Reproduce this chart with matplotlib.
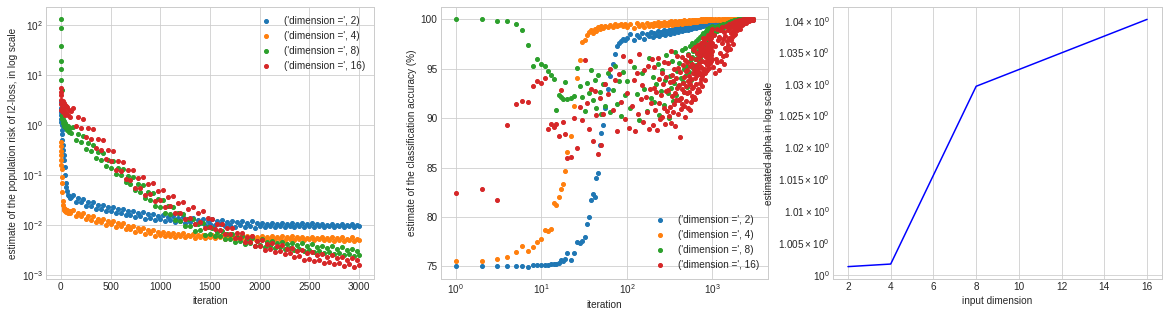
#!/usr/bin/env python3
# -*- coding: utf-8 -*-

import matplotlib
matplotlib.use('Agg')
import matplotlib.pyplot as plt

plt.style.use('seaborn-v0_8-whitegrid')

dims = [2, 4, 8, 16]

# ---- population risk of l2-loss ----
loss_iters = [0, 1, 2, 3, 4, 5, 6, 8, 10, 15, 20, 25, 30, 35, 40, 45, 50, 55, 60, 70, 80, 90, 100] \
    + list(range(125, 3001, 25))

loss_d2 = [2.8, 2.2, 1.8, 1.6, 1.3, 1.15, 1.0, 0.8, 0.65, 0.5, 0.4, 0.32, 0.25, 0.2, 0.14, 0.1,
           0.07, 0.056, 0.048, 0.04, 0.037, 0.035, 0.036,
           0.0394, 0.0288, 0.0338, 0.0281, 0.0331, 0.0239, 0.0281, 0.0233,
           0.0281, 0.0206, 0.0246, 0.0208, 0.0252, 0.0186, 0.0224, 0.019,
           0.0229, 0.017, 0.0203, 0.0173, 0.0209, 0.0155, 0.0186, 0.0158,
           0.0192, 0.0143, 0.0172, 0.0147, 0.0178, 0.0133, 0.0161, 0.0138,
           0.0167, 0.0124, 0.015, 0.0128, 0.0156, 0.0117, 0.0142, 0.0123,
           0.015, 0.0112, 0.0136, 0.0117, 0.0144, 0.0108, 0.0132, 0.0113,
           0.0139, 0.0104, 0.0126, 0.0109, 0.0133, 0.01, 0.0122, 0.0105,
           0.0129, 0.0097, 0.0118, 0.0102, 0.0125, 0.0094, 0.0116, 0.01,
           0.0122, 0.0092, 0.0112, 0.0098, 0.012, 0.009, 0.011, 0.0095,
           0.0117, 0.0088, 0.0108, 0.0093, 0.0108, 0.0091, 0.0103, 0.0095,
           0.0108, 0.0091, 0.0103, 0.0095, 0.0108, 0.0091, 0.0103, 0.0095,
           0.0107, 0.009, 0.0102, 0.0094, 0.0107, 0.009, 0.0102, 0.0094,
           0.0107, 0.009, 0.0102, 0.0094, 0.0106, 0.009, 0.0101, 0.0094,
           0.0106, 0.009, 0.0101, 0.0094, 0.0106, 0.0089, 0.0101, 0.0093,
           0.0106, 0.0089, 0.0101, 0.0093]

loss_d4 = [0.45, 0.38, 0.3, 0.25, 0.2, 0.16, 0.13, 0.09, 0.07, 0.045, 0.03, 0.025, 0.022, 0.02,
           0.021, 0.019, 0.02, 0.018, 0.0195, 0.0175, 0.019, 0.017, 0.0185,
           0.0201, 0.015, 0.0174, 0.0149, 0.0171, 0.0128, 0.0149, 0.0127,
           0.0149, 0.0112, 0.013, 0.0113, 0.0132, 0.0101, 0.0119, 0.0103,
           0.0121, 0.0092, 0.0108, 0.0094, 0.011, 0.0082, 0.0095, 0.0082,
           0.0096, 0.0073, 0.0086, 0.0074, 0.0088, 0.0067, 0.0078, 0.0068,
           0.008, 0.0061, 0.0072, 0.0062, 0.0072, 0.006, 0.0068, 0.0061,
           0.007, 0.0058, 0.0066, 0.006, 0.0068, 0.0057, 0.0063, 0.0059,
           0.0066, 0.0055, 0.0062, 0.0058, 0.0064, 0.0054, 0.0061, 0.0057,
           0.0064, 0.0054, 0.0061, 0.0056, 0.0063, 0.0053, 0.006, 0.0056,
           0.0063, 0.0053, 0.006, 0.0055, 0.0062, 0.0052, 0.0059, 0.0055,
           0.0061, 0.0051, 0.0058, 0.0053, 0.006, 0.0051, 0.0057, 0.0053,
           0.006, 0.0051, 0.0057, 0.0052, 0.0059, 0.005, 0.0056, 0.0052,
           0.0059, 0.005, 0.0056, 0.0052, 0.0058, 0.0049, 0.0055, 0.0051,
           0.0058, 0.0049, 0.0055, 0.0051, 0.0057, 0.0049, 0.0054, 0.005,
           0.0057, 0.0048, 0.0054, 0.005, 0.0056, 0.0048, 0.0053, 0.005,
           0.0056, 0.0047, 0.0053, 0.0049]

loss_d8 = [128, 87, 38, 19, 13, 8, 5, 1.6, 1.3, 1.5, 1.1, 1.3, 0.95, 1.2, 0.9, 1.1,
           0.85, 1.0, 0.8, 0.95, 0.72, 0.88, 0.7,
           0.92, 0.50, 0.66, 0.46, 0.61, 0.33, 0.435, 0.305,
           0.40, 0.22, 0.287, 0.20, 0.268, 0.149, 0.197, 0.139,
           0.186, 0.103, 0.136, 0.097, 0.128, 0.071, 0.094, 0.067,
           0.0886, 0.0492, 0.065, 0.0462, 0.0613, 0.0341, 0.045, 0.0319,
           0.0429, 0.0241, 0.0322, 0.0231, 0.0311, 0.0175, 0.0234, 0.0168,
           0.0225, 0.0126, 0.017, 0.0121, 0.0165, 0.0095, 0.0129, 0.0094,
           0.0131, 0.0076, 0.0105, 0.0078, 0.0109, 0.0064, 0.0089, 0.0067,
           0.0086, 0.006, 0.0073, 0.0061, 0.0076, 0.0053, 0.0065, 0.0053,
           0.0066, 0.0046, 0.0056, 0.0047, 0.0059, 0.0042, 0.0052, 0.0043,
           0.0054, 0.00384, 0.00477, 0.00402, 0.0051, 0.00363, 0.00456, 0.00384,
           0.00486, 0.00346, 0.00434, 0.00366, 0.00464, 0.00331, 0.00415, 0.0035,
           0.00443, 0.00315, 0.00396, 0.00334, 0.00424, 0.00302, 0.00379, 0.00319,
           0.00405, 0.00288, 0.00362, 0.00305, 0.00386, 0.00275, 0.00346, 0.00291,
           0.00369, 0.00263, 0.0033, 0.00278, 0.00353, 0.00251, 0.00315, 0.00265,
           0.00336, 0.0024, 0.00301, 0.00253]

loss_d16 = [5.5, 4.5, 3.9, 3.2, 2.6, 2.0, 2.8, 1.9, 2.9, 2.2, 3.0, 1.8, 2.7, 2.0, 2.5, 1.6,
            2.4, 1.7, 2.3, 1.6, 2.0, 1.4, 1.9,
            2.2, 0.95, 1.43, 0.87, 1.33, 0.57, 0.86, 0.52,
            0.81, 0.34, 0.52, 0.32, 0.49, 0.21, 0.31, 0.19,
            0.30, 0.126, 0.19, 0.117, 0.184, 0.081, 0.124, 0.077,
            0.123, 0.055, 0.087, 0.055, 0.089, 0.040, 0.064, 0.042,
            0.068, 0.030, 0.048, 0.031, 0.050, 0.0227, 0.036, 0.0234,
            0.038, 0.017, 0.027, 0.0173, 0.0286, 0.013, 0.0211, 0.0138,
            0.0229, 0.0105, 0.0169, 0.0112, 0.0187, 0.0085, 0.0138, 0.0091,
            0.0128, 0.0081, 0.0102, 0.008, 0.0104, 0.0066, 0.0086, 0.0067,
            0.0085, 0.0055, 0.0069, 0.0054, 0.007, 0.0045, 0.0058, 0.0045,
            0.0059, 0.0037, 0.0048, 0.0038, 0.0049, 0.0032, 0.0042, 0.0033,
            0.0044, 0.0029, 0.0038, 0.003, 0.0039, 0.0026, 0.0033, 0.0027,
            0.0035, 0.0023, 0.003, 0.0024, 0.0031, 0.002, 0.0027, 0.0021,
            0.0028, 0.00185, 0.00244, 0.00197, 0.00262, 0.00173, 0.00229, 0.00184,
            0.00245, 0.00162, 0.00213, 0.00172, 0.00231, 0.00153, 0.00202, 0.00164,
            0.0022, 0.00146, 0.00194, 0.00157]

# ---- classification accuracy (%) ----
acc_head = list(range(1, 21)) + list(range(22, 51, 2)) + [53, 56, 60, 64, 68, 72, 76, 80, 85, 90, 95]
acc_iters = acc_head + list(range(100, 1001, 10)) + list(range(1040, 3001, 40))
acc_iters_d16 = acc_head + list(range(100, 1001, 5)) + list(range(1020, 3001, 20))

acc_d2 = [75.07, 75.0, 75.05, 75.05, 75.05, 75.05, 74.98, 75.1, 75.12, 75.13,
          75.15, 75.15, 75.2, 75.2, 75.25, 75.3, 75.7, 75.5, 75.8, 76.4,
          75.7, 76.4, 77.5, 77.4, 77.6, 78.0, 79.3, 80.0, 81.7, 82.3, 82.0, 83.9, 84.5, 87.3, 88.5,
          89.3, 91.0, 93.0, 94.3, 95.5, 96.5, 97.3, 97.6, 97.8, 98.0, 97.9,
          98.1, 98.5, 97.9, 98.4, 98.2, 98.6, 98.0, 98.5, 98.3, 98.7,
          98.2, 98.6, 98.4, 98.8, 98.3, 98.7, 98.5, 98.9, 98.4, 98.8,
          98.6, 98.9, 98.5, 98.9, 98.7, 99.0, 98.6, 99.0, 98.8, 99.1,
          98.7, 99.0, 98.9, 99.2, 98.8, 99.1, 98.9, 99.2, 98.9, 99.2,
          99.0, 99.3, 98.9, 99.2, 99.1, 99.3, 99.0, 99.3, 99.1, 99.4,
          99.1, 99.3, 99.2, 99.4, 99.1, 99.4, 99.2, 99.5, 99.2, 99.4,
          99.3, 99.5, 99.2, 99.5, 99.3, 99.5, 99.3, 99.6, 99.3, 99.5,
          99.4, 99.6, 99.4, 99.6, 99.4, 99.6, 99.5, 99.7, 99.4, 99.6,
          99.5, 99.7, 99.5, 99.7, 99.5, 99.7, 99.6, 99.7, 99.5, 99.7,
          99.6,
          99.6, 99.8, 99.6, 99.8, 99.7, 99.8, 99.6, 99.9, 99.7, 99.8,
          99.7, 99.9, 99.7, 99.8, 99.8, 99.9, 99.7, 99.9, 99.8, 99.9,
          99.8, 99.9, 99.8, 100.0, 99.8, 99.9, 99.8, 100.0, 99.9, 99.9,
          99.8, 100.0, 99.9, 99.9, 99.9, 100.0, 99.8, 100.0, 99.9, 99.9,
          99.9, 100.0, 99.9, 100.0, 99.9, 99.9, 100.0, 99.9, 100.0, 99.9]

acc_d4 = [75.5, 75.5, 75.8, 76.0, 76.5, 77.1, 76.6, 77.0, 77.5, 77.8,
          78.7, 78.6, 78.8, 81.4, 81.2, 82.0, 82.8, 83.3, 84.7, 86.6,
          88.2, 91.2, 94.1, 95.9, 97.7, 97.9, 98.4, 98.7, 98.9, 98.6, 99.0, 98.8, 99.2, 99.0, 99.3,
          99.1, 99.3, 99.2, 99.4, 99.2, 99.5, 99.3, 99.4, 99.5, 99.3, 99.5,
          99.2, 99.5, 99.1, 99.6, 99.3, 99.5, 99.2, 99.6, 99.3, 99.5,
          99.3, 99.6, 99.4, 99.7, 99.3, 99.6, 99.4, 99.7, 99.4, 99.6,
          99.4, 99.7, 99.5, 99.8, 99.4, 99.7, 99.5, 99.8, 99.5, 99.7,
          99.5, 99.8, 99.6, 99.8, 99.5, 99.7, 99.6, 99.9, 99.6, 99.8,
          99.6, 99.8, 99.7, 99.9, 99.6, 99.8, 99.7, 99.9, 99.7, 99.8,
          99.7, 99.9, 99.7, 99.9, 99.8, 99.9, 99.7, 99.9, 99.8, 99.9,
          99.8, 99.9, 99.8, 100.0, 99.8, 99.9, 99.8, 100.0, 99.9, 99.9,
          99.8, 100.0, 99.9, 99.9, 99.8, 100.0, 99.9, 100.0, 99.9, 99.9,
          99.9, 100.0, 99.9, 100.0, 99.9, 100.0, 99.9, 100.0, 99.9, 100.0,
          99.9,
          99.9, 100.0, 99.9, 100.0, 100.0, 99.9, 100.0, 99.9, 100.0, 100.0,
          99.9, 100.0, 100.0, 99.9, 100.0, 100.0, 99.9, 100.0, 100.0, 100.0,
          100.0, 99.9, 100.0, 100.0, 100.0, 99.9, 100.0, 100.0, 100.0, 100.0,
          100.0, 100.0, 99.9, 100.0, 100.0, 100.0, 100.0, 100.0, 99.9, 100.0,
          100.0, 100.0, 100.0, 100.0, 100.0, 100.0, 100.0, 100.0, 100.0, 100.0]

acc_d8 = [100.0, 100.0, 99.85, 99.85, 99.55, 98.95, 97.45, 95.3, 96.0, 95.5,
          95.3, 94.8, 94.4, 94.0, 90.8, 92.3, 92.1, 91.9, 93.7, 91.9,
          92.0, 92.2, 95.1, 93.3, 92.1, 90.7, 93.6, 92.5, 94.9, 91.8, 93.9, 91.0, 94.4, 92.6, 90.4,
          93.5, 91.2, 94.6, 90.6, 92.9, 95.3, 91.4, 93.8, 90.2, 94.7, 92.3,
          93.8, 91.0, 95.2, 92.4, 89.8, 94.6, 93.0, 90.7, 96.1, 92.0,
          94.2, 91.6, 93.5, 95.5, 90.3, 92.8, 94.9, 91.3, 93.9, 96.4,
          92.5, 90.0, 94.3, 93.1, 95.8, 91.7, 93.6, 96.7, 92.3, 94.8,
          93.3, 95.6, 91.9, 94.1, 96.9, 93.7, 95.0, 92.6, 97.1, 94.4,
          95.3, 93.2, 96.5, 94.7, 97.3, 95.8, 93.9, 96.2, 97.6, 95.1,
          96.8, 94.6, 97.4, 96.0, 95.4, 97.8, 96.5, 95.9, 98.0, 96.9,
          97.2, 96.1, 98.2, 97.5, 96.6, 98.4, 97.0, 97.7, 98.6, 96.8,
          98.1, 97.4, 98.5, 97.9, 98.8, 97.6, 98.3, 99.0, 98.0, 98.6,
          98.9, 98.2, 99.1, 98.5, 98.8, 99.2, 98.6, 99.0, 99.3, 98.9,
          99.1,
          98.6, 99.2, 98.8, 99.3, 99.0, 99.4, 98.9, 99.5, 99.2, 99.4,
          99.3, 99.6, 99.4, 99.7, 99.5, 99.8, 99.6, 99.7, 99.8, 99.9,
          99.7, 99.9, 99.8, 99.9, 100.0, 99.8, 99.9, 100.0, 99.9, 100.0,
          99.9, 100.0, 100.0, 99.9, 100.0, 100.0, 99.9, 100.0, 100.0, 100.0,
          100.0, 100.0, 100.0, 100.0, 100.0, 100.0, 100.0, 100.0, 100.0, 100.0]

acc_d16 = [82.4, 82.8, 81.7, 89.3, 91.4, 91.7, 91.6, 93.3, 93.8, 93.6,
           94.1, 88.9, 89.4, 89.1, 89.4, 88.2, 92.9, 89.6, 88.4, 86.0,
           86.1, 90.0, 87.0, 91.1, 89.8, 95.9, 91.5, 88.9, 93.0, 87.7, 92.8, 90.3, 86.4, 92.0, 87.3,
           90.4, 93.5, 92.4, 95.0, 90.8, 93.9, 88.7, 94.5, 91.6, 96.3, 89.9,
           92.5, 89.0, 95.8, 91.2, 93.9, 88.7, 94.6, 90.4, 96.5, 91.9,
           93.4, 89.6, 94.9, 92.1, 90.6, 95.3, 88.9, 93.0, 91.5, 96.0,
           89.3, 93.1, 95.2, 90.8, 92.6, 88.8, 96.1, 91.5, 94.0, 89.9,
           92.3, 94.6, 90.1, 93.5, 91.0, 95.7, 89.4, 92.8, 94.2, 90.7,
           92.9, 95.6, 90.2, 93.7, 91.1, 96.8, 89.5, 94.4, 92.2, 90.6,
           93.8, 91.4, 95.0, 92.5, 89.2, 94.1, 91.8, 96.3, 93.1, 90.4,
           95.1, 91.8, 93.4, 88.1, 94.7, 92.0, 90.9, 96.2, 93.0, 91.4,
           93.6, 95.4, 91.2, 94.2, 92.6, 90.1, 95.9, 93.3, 91.7, 94.8,
           94.9, 92.5, 95.7, 91.0, 93.8, 96.4, 92.7, 94.3, 90.8, 95.3,
           93.5, 91.6, 96.1, 94.0, 92.2, 95.5, 93.1, 97.0, 91.9, 94.6,
           93.2, 96.9, 92.1, 95.0, 94.1, 97.2, 91.9, 94.8, 96.0, 93.5,
           95.3, 92.6, 96.6, 94.4, 93.0, 97.4, 95.1, 92.9, 96.2, 94.7,
           95.6, 92.8, 97.0, 94.5, 96.3, 93.6, 97.6, 95.2, 94.0, 96.7,
           94.3, 97.3, 95.8, 93.3, 96.9, 95.0, 98.1, 94.6, 96.4, 97.7,
           95.0, 97.8, 93.9, 96.5, 95.7, 98.0, 94.6, 97.1, 96.2, 94.8,
           96.8, 98.2, 95.4, 97.5, 94.9, 96.3, 98.4, 95.9, 97.0, 96.1,
           97.5, 95.9, 98.3, 96.6, 95.1, 97.9, 96.9, 98.5, 95.6, 97.3,
           96.4, 98.7, 97.2, 95.8, 98.1, 96.7, 99.0, 97.6, 96.0, 98.4,
           96.8,
           95.2, 98.4, 94.6, 97.3, 96.0, 99.0, 95.7, 97.9, 94.9, 98.2,
           96.6, 98.9, 95.8, 97.6, 99.2, 96.3, 98.0, 95.5, 98.7, 97.1,
           98.3, 96.4, 99.3, 97.8, 96.9, 98.9, 97.4, 99.5, 98.1, 97.0,
           99.1, 97.9, 98.6, 99.6, 98.2, 97.5, 99.3, 98.8, 99.7, 98.4,
           99.0, 99.6, 98.5, 99.3, 99.8, 98.9, 99.5, 99.1, 99.8, 99.3,
           99.6, 99.2, 99.9, 99.4, 99.7, 99.0, 99.8, 99.5, 99.9, 99.6,
           99.4, 99.9, 99.7, 99.5, 100.0, 99.7, 99.6, 99.9, 99.8, 99.7,
           99.9, 99.6, 100.0, 99.8, 99.7, 99.9, 100.0, 99.8, 99.9, 99.8,
           100.0, 99.9, 99.8, 100.0, 99.9, 100.0, 99.9, 99.9, 100.0, 99.9,
           100.0, 99.9, 100.0, 100.0, 99.9, 100.0, 100.0, 99.9, 100.0, 100.0]

# ---- estimated alpha ----
alpha_dims = [2, 4, 8, 16]
alpha_vals = [1.0013, 1.0017, 1.0296, 1.0403]

loss_series = [loss_d2, loss_d4, loss_d8, loss_d16]
acc_x = [acc_iters, acc_iters, acc_iters, acc_iters_d16]
acc_series = [acc_d2, acc_d4, acc_d8, acc_d16]


def label(d):
    return str(('dimension =', d))


fig = plt.figure(figsize=(1168 / 72, 317 / 72), dpi=72)
ax1 = fig.add_axes([0.0394, 0.1199, 0.2808, 0.858])
ax2 = fig.add_axes([0.3776, 0.1199, 0.2800, 0.858])
ax3 = fig.add_axes([0.7132, 0.1199, 0.2817, 0.858])

for d, vals in zip(dims, loss_series):
    ax1.scatter(loss_iters, vals, s=16, label=label(d))
ax1.set_yscale('log')
ax1.set_xlabel('iteration')
ax1.set_ylabel('estimate of the population risk of l2-loss, in log scale')
ax1.legend(loc='upper right')

for d, xs, vals in zip(dims, acc_x, acc_series):
    ax2.scatter(xs, vals, s=16, label=label(d))
ax2.set_xscale('log')
ax2.set_xlabel('iteration')
ax2.set_ylabel('estimate of the classification accuracy (%)')
ax2.legend(loc='lower right')

ax3.plot(alpha_dims, alpha_vals, color='b')
ax3.set_yscale('log')
ax3.set_xlabel('input dimension')
ax3.set_ylabel('estimated alpha in log scale')

fig.savefig('out.png', dpi=72)
